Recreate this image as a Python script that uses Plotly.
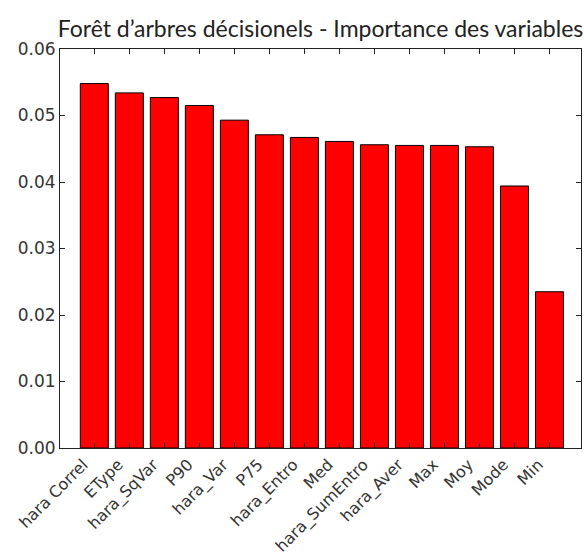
import plotly.graph_objects as go

variables = ["hara Correl", "EType", "hara_SqVar", "P90", "hara_Var", "P75", "hara_Entro",
             "Med", "hara_SumEntro", "hara_Aver", "Max", "Moy", "Mode", "Min"]
importances = [0.0548, 0.0534, 0.0527, 0.0515, 0.0493, 0.0471, 0.0467,
               0.0461, 0.0456, 0.0455, 0.0455, 0.0453, 0.0394, 0.0235]
y_ticks = [0.00, 0.01, 0.02, 0.03, 0.04, 0.05, 0.06]
y_tick_labels = ["0.00", "0.01", "0.02", "0.03", "0.04", "0.05", "0.06"]
title_text = "Forêt d’arbres décisionels - Importance des variables"

W, H = 584, 554

fig = go.Figure(go.Bar(
    x=list(range(len(variables))),
    y=importances,
    width=0.8,
    marker=dict(color="#ff0000", line=dict(color="#000000", width=1)),
))

fig.update_layout(
    width=W, height=H,
    margin=dict(l=60, r=3, t=49, b=106),
    paper_bgcolor="white", plot_bgcolor="white",
    showlegend=False,
    title=dict(text=title_text, x=0.5, xref="paper", xanchor="center",
               y=(H - 37) / H, yref="container", yanchor="bottom",
               font=dict(family="Lato", size=23, color="#222")),
    font=dict(family="DejaVu Sans", size=16, color="#333"),
)

fig.update_xaxes(
    range=[-0.98, 13.9],
    tickmode="array",
    tickvals=list(range(len(variables))),
    ticktext=variables,
    tickangle=-45,
    ticks="inside", ticklen=5, tickcolor="#222",
    showline=True, linecolor="#222", linewidth=1, mirror="ticks",
    showgrid=False, zeroline=False,
    automargin=False,
    ticklabelshift=-11,
    tickfont=dict(family="DejaVu Sans", size=16, color="#333"),
)
fig.update_yaxes(
    range=[0, 0.06],
    tickmode="array",
    tickvals=y_ticks,
    ticktext=y_tick_labels,
    ticks="inside", ticklen=5, tickcolor="#222",
    showline=True, linecolor="#222", linewidth=1, mirror="ticks",
    showgrid=False, zeroline=False,
    automargin=False,
    ticklabelstandoff=0,
    tickfont=dict(family="DejaVu Sans", size=17, color="#333"),
)

fig.write_html(
    "out.html",
    config={"displayModeBar": False},
    post_script="document.body.style.margin='0';document.body.style.overflow='hidden';",
)
